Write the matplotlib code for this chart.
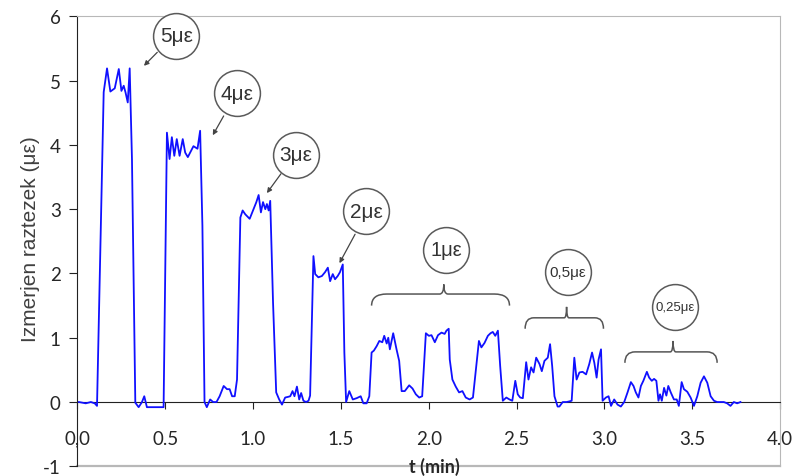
import numpy as np
import matplotlib.pyplot as plt
from matplotlib.path import Path
from matplotlib.patches import PathPatch

plt.rcParams['axes.unicode_minus'] = False

t_min = [0.009, 0.048, 0.077, 0.099, 0.112, 0.150, 0.169, 0.188, 0.213, 0.236,
         0.251, 0.264, 0.274, 0.287, 0.298, 0.311, 0.330, 0.349, 0.368, 0.381,
         0.396, 0.481, 0.491, 0.510, 0.525, 0.538, 0.552, 0.566, 0.582, 0.600,
         0.614, 0.629, 0.642, 0.661, 0.684, 0.699, 0.712, 0.724, 0.737, 0.756,
         0.773, 0.792, 0.810, 0.833, 0.852, 0.867, 0.881, 0.896, 0.909, 0.928,
         0.941, 0.956, 0.981, 1.003, 1.019, 1.032, 1.045, 1.057, 1.070, 1.079,
         1.089, 1.098, 1.114, 1.132, 1.149, 1.165, 1.183, 1.199, 1.212, 1.225,
         1.236, 1.250, 1.263, 1.274, 1.287, 1.302, 1.316, 1.325, 1.344, 1.354,
         1.372, 1.392, 1.410, 1.426, 1.439, 1.454, 1.467, 1.482, 1.495, 1.511,
         1.520, 1.530, 1.548, 1.568, 1.590, 1.613, 1.628, 1.647, 1.662, 1.675,
         1.688, 1.704, 1.719, 1.736, 1.747, 1.761, 1.770, 1.779, 1.798, 1.817,
         1.832, 1.846, 1.864, 1.889, 1.908, 1.927, 1.946, 1.963, 1.974, 1.984,
         2.001, 2.016, 2.035, 2.053, 2.073, 2.091, 2.101, 2.114, 2.120, 2.135,
         2.154, 2.173, 2.192, 2.211, 2.233, 2.252, 2.271, 2.286, 2.300, 2.318,
         2.337, 2.352, 2.365, 2.379, 2.394, 2.407, 2.422, 2.442, 2.460, 2.476,
         2.493, 2.507, 2.521, 2.536, 2.555, 2.568, 2.583, 2.597, 2.612, 2.631,
         2.644, 2.659, 2.678, 2.691, 2.703, 2.716, 2.734, 2.744, 2.763, 2.785,
         2.801, 2.814, 2.829, 2.842, 2.858, 2.876, 2.896, 2.914, 2.930, 2.943,
         2.956, 2.967, 2.981, 2.990, 3.009, 3.024, 3.038, 3.056, 3.075, 3.094,
         3.113, 3.132, 3.151, 3.166, 3.179, 3.194, 3.208, 3.222, 3.242, 3.255,
         3.270, 3.283, 3.296, 3.308, 3.317, 3.327, 3.340, 3.353, 3.364, 3.378,
         3.396, 3.412, 3.424, 3.440, 3.453, 3.472, 3.491, 3.510, 3.529, 3.548,
         3.567, 3.586, 3.605, 3.624, 3.642, 3.680, 3.699, 3.718, 3.737, 3.756,
         3.775]
strain = [0.00, -0.02, 0.00, -0.02, -0.06, 4.82, 5.19, 4.83, 4.88, 5.18,
          4.84, 4.92, 4.82, 4.66, 5.19, 3.78, -0.01, -0.08, 0.00, 0.09,
          -0.08, -0.08, -0.08, 4.19, 3.78, 4.12, 3.83, 4.09, 3.83, 4.09,
          3.88, 3.81, 3.88, 3.98, 3.94, 4.22, 2.74, 0.00, -0.08, 0.04,
          0.00, 0.00, 0.09, 0.25, 0.20, 0.20, 0.09, 0.09, 0.35, 2.87,
          2.98, 2.92, 2.85, 3.00, 3.11, 3.22, 2.95, 3.11, 3.00, 3.08,
          2.98, 3.13, 1.55, 0.15, 0.04, -0.04, 0.07, 0.08, 0.09, 0.17,
          0.09, 0.24, 0.04, 0.14, 0.02, 0.00, 0.02, 0.10, 2.27, 1.99,
          1.94, 1.96, 2.02, 2.09, 1.88, 1.99, 1.91, 1.96, 2.02, 2.14,
          0.77, 0.00, 0.17, 0.04, 0.06, 0.09, -0.02, -0.02, 0.09, 0.77,
          0.80, 0.87, 0.95, 0.93, 1.03, 0.91, 1.00, 0.82, 1.07, 0.82,
          0.64, 0.17, 0.17, 0.26, 0.21, 0.12, 0.07, 0.09, 0.61, 1.07,
          1.03, 1.04, 0.93, 1.04, 1.08, 1.06, 1.11, 1.14, 0.66, 0.35,
          0.24, 0.15, 0.17, 0.07, 0.04, 0.07, 0.56, 0.95, 0.85, 0.92,
          1.03, 1.07, 1.09, 1.03, 1.11, 0.56, 0.02, 0.07, 0.04, 0.02,
          0.33, 0.12, 0.07, 0.06, 0.62, 0.35, 0.54, 0.46, 0.69, 0.59,
          0.48, 0.64, 0.69, 0.90, 0.56, 0.09, -0.07, -0.07, 0.00, 0.00,
          0.01, 0.02, 0.69, 0.35, 0.46, 0.47, 0.43, 0.59, 0.77, 0.61,
          0.38, 0.66, 0.82, 0.02, 0.07, 0.09, -0.06, 0.04, -0.04, -0.07,
          0.00, 0.15, 0.31, 0.25, 0.15, 0.07, 0.25, 0.33, 0.47, 0.38,
          0.33, 0.36, 0.33, 0.02, 0.12, 0.02, 0.22, 0.10, 0.25, 0.15,
          0.04, 0.04, -0.06, 0.31, 0.20, 0.16, 0.07, -0.06, 0.09, 0.30,
          0.40, 0.30, 0.09, 0.02, 0.00, 0.00, -0.02, -0.06, 0.00, -0.02,
          0.00]

x_ticks = [0.0, 0.5, 1.0, 1.5, 2.0, 2.5, 3.0, 3.5, 4.0]
x_ticklabels = ['0,0', '0.5', '1.0', '1.5', '2.0', '2.5', '3.0', '3.5', '4.0']
y_ticks = [-1, 0, 1, 2, 3, 4, 5, 6]

# step labels pointing at single pulses
arrow_labels = ['5με', '4με', '3με', '2με']
arrow_circles = [(0.564, 5.70), (0.911, 4.80), (1.242, 3.85), (1.645, 2.97)]
arrow_from = [(0.455, 5.44), (0.833, 4.45), (1.159, 3.55), (1.581, 2.61)]
arrow_to = [(0.379, 5.23), (0.771, 4.15), (1.079, 3.25), (1.492, 2.16)]

# step labels over groups of pulses
brace_labels = ['1με', '0,5με', '0,25με']
brace_circles = [(2.101, 2.37), (2.791, 2.02), (3.401, 1.48)]
brace_sizes = [14.5, 11, 9.5]
# x0, x1, tip x, end y, line y, tip y
braces = [(1.675, 2.460, 2.086, 1.50, 1.68, 1.83),
          (2.549, 2.995, 2.785, 1.14, 1.31, 1.48),
          (3.117, 3.642, 3.391, 0.61, 0.78, 0.95)]

fig = plt.figure(figsize=(7.94, 4.77), dpi=100)
ax = fig.add_axes([0.0974, 0.0203, 0.885, 0.9434])

ax.plot(t_min, strain, color='#1010ff', lw=1.3, zorder=3)

ax.set_xlim(0, 4)
ax.set_ylim(-1, 6)

frame = '#b8b8b8'
for s in ['top', 'right']:
    ax.spines[s].set_color(frame)
ax.spines['left'].set_color('#222222')
ax.spines['bottom'].set_position(('data', 0))
ax.spines['bottom'].set_color('#222222')
ax.axhline(-1, color=frame, lw=1.6, zorder=1, clip_on=False)

ax.set_xticks(x_ticks)
ax.set_xticklabels(x_ticklabels)
ax.set_yticks(y_ticks)
ax.tick_params(axis='x', direction='out', length=5, pad=15, labelsize=13.5,
               labelcolor='#262626', color='#222222')
ax.tick_params(axis='y', direction='out', length=6, pad=6, labelsize=13.5,
               labelcolor='#262626', color='#222222')
for lab in ax.get_xticklabels() + ax.get_yticklabels():
    lab.set_family('Lato')

ax.set_ylabel('Izmerjen raztezek (με)', fontsize=15, color='#404040',
              family='Liberation Sans')
ax.yaxis.set_label_coords(-0.053, 0.508)
ax.text(0.508, 0.0, 't (min)', transform=ax.transAxes, ha='center', va='center',
        fontsize=13, fontweight='bold', family='Lato', color='#262626')

circle_kw = dict(marker='o', markersize=33, markerfacecolor='white',
                 markeredgecolor='#5a5a5a', markeredgewidth=1.1, ls='none',
                 zorder=4, clip_on=False)

for lab, c, a, b in zip(arrow_labels, arrow_circles, arrow_from, arrow_to):
    ax.plot([c[0]], [c[1]], **circle_kw)
    ax.text(c[0], c[1], lab, ha='center', va='center', fontsize=15,
            family='Liberation Sans', color='#333333', zorder=5)
    ax.annotate('', xy=b, xytext=a,
                arrowprops=dict(arrowstyle='-|>', color='#444444', lw=0.9,
                                mutation_scale=7, shrinkA=0, shrinkB=0))

for lab, c, fs, br in zip(brace_labels, brace_circles, brace_sizes, braces):
    ax.plot([c[0]], [c[1]], **circle_kw)
    ax.text(c[0], c[1], lab, ha='center', va='center', fontsize=fs,
            family='Liberation Sans', color='#333333', zorder=5)
    x0, x1, xm, ye, yl, yt = br
    dx = (x1 - x0) * 0.11
    dm = (x1 - x0) * 0.03
    verts = [(x0, ye), (x0, yl), (x0 + dx, yl),
             (xm - dm, yl),
             (xm, yl), (xm, yt),
             (xm, yl), (xm + dm, yl),
             (x1 - dx, yl),
             (x1, yl), (x1, ye)]
    codes = [Path.MOVETO, Path.CURVE3, Path.CURVE3,
             Path.LINETO,
             Path.CURVE3, Path.CURVE3,
             Path.CURVE3, Path.CURVE3,
             Path.LINETO,
             Path.CURVE3, Path.CURVE3]
    ax.add_patch(PathPatch(Path(verts, codes), fill=False, ec='#555555',
                           lw=1.1, zorder=4))

fig.savefig('out.png', dpi=100)
